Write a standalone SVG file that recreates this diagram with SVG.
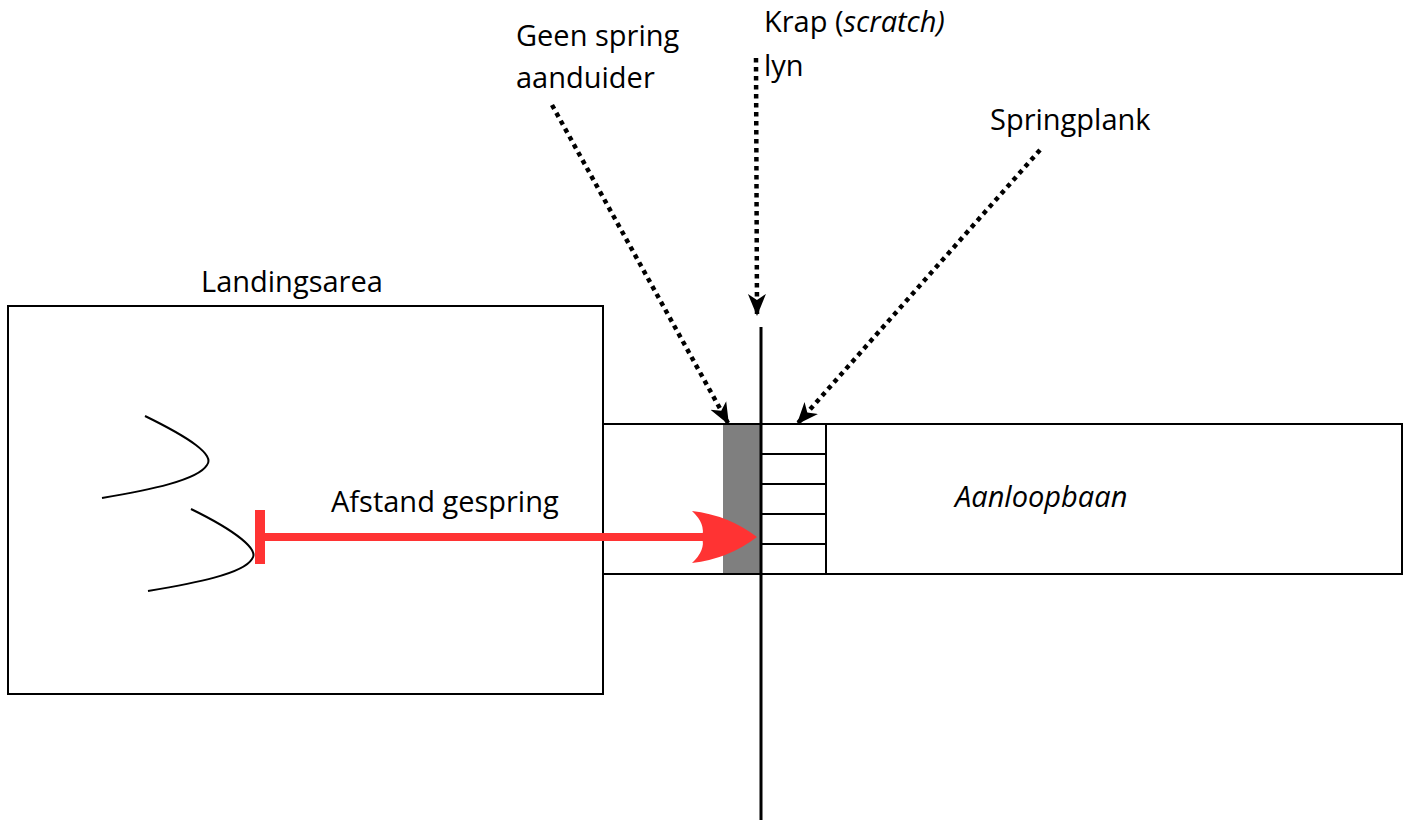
<svg xmlns="http://www.w3.org/2000/svg" width="1407" height="820" viewBox="0 0 1407 820">
<style>
.box{fill:#fff;stroke:#000;stroke-width:2}
.thin{stroke:#000;stroke-width:2;fill:none}
.dot{stroke:#000;stroke-width:4.5;stroke-dasharray:4.5 4.5;fill:none}
.t{font-family:"Open Sans","Liberation Sans",sans-serif;font-size:29px;fill:#000}
.i{font-style:italic}
</style>
<defs>
<marker id="ah" viewBox="0 0 22 22" refX="20" refY="11" markerWidth="22" markerHeight="22" markerUnits="userSpaceOnUse" orient="auto">
<path d="M0,2 L22,11 L0,20 L6,11 Z" fill="#000"/>
</marker>
</defs>
<rect width="1407" height="820" fill="#fff"/>
<g id="landing">
<rect class="box" x="8" y="306" width="595" height="388"/>
<text class="t" x="201" y="292">Landingsarea</text>
<path class="thin" d="M145,416 C190,438 215,455 207,465 C198,480 150,490 102,498"/>
<path class="thin" d="M191,509 C236,531 260,550 252,559 C243,574 195,583 148,591"/>
</g>
<g id="runway">
<rect class="box" x="603" y="424" width="799" height="150"/>
<text class="t i" x="955" y="507">Aanloopbaan</text>
</g>
<g id="foul-marker">
<rect x="723" y="425" width="37" height="148" fill="#7f7f7f"/>
</g>
<g id="board">
<rect class="box" x="761" y="424" width="65" height="150"/>
<path class="thin" d="M761,454H826M761,484H826M761,514H826M761,544H826"/>
</g>
<g id="scratch-line">
<line x1="761" y1="327" x2="761" y2="820" stroke="#000" stroke-width="3"/>
</g>
<g id="distance">
<line x1="260" y1="537" x2="705" y2="537" stroke="#ff3333" stroke-width="8"/>
<line x1="260" y1="510" x2="260" y2="564" stroke="#ff3333" stroke-width="10"/>
<path d="M757,537 Q728,515 692,511 Q706,524 702,537 Q706,550 692,563 Q728,559 757,537 Z" fill="#ff3333"/>
<text class="t" x="331" y="512">Afstand gespring</text>
</g>
<g id="labels">
<text class="t" x="516" y="46">Geen spring</text>
<text class="t" x="516" y="88">aanduider</text>
<text class="t" x="764" y="32">Krap (<tspan class="i">scratch)</tspan></text>
<text class="t" x="764" y="76">lyn</text>
<text class="t" x="990" y="130">Springplank</text>
</g>
<g id="connectors">
<line class="dot" x1="552" y1="105" x2="728" y2="423" marker-end="url(#ah)"/>
<line class="dot" x1="756" y1="58" x2="757" y2="314" marker-end="url(#ah)"/>
<line class="dot" x1="1040" y1="150" x2="798" y2="423" marker-end="url(#ah)"/>
</g>
</svg>
